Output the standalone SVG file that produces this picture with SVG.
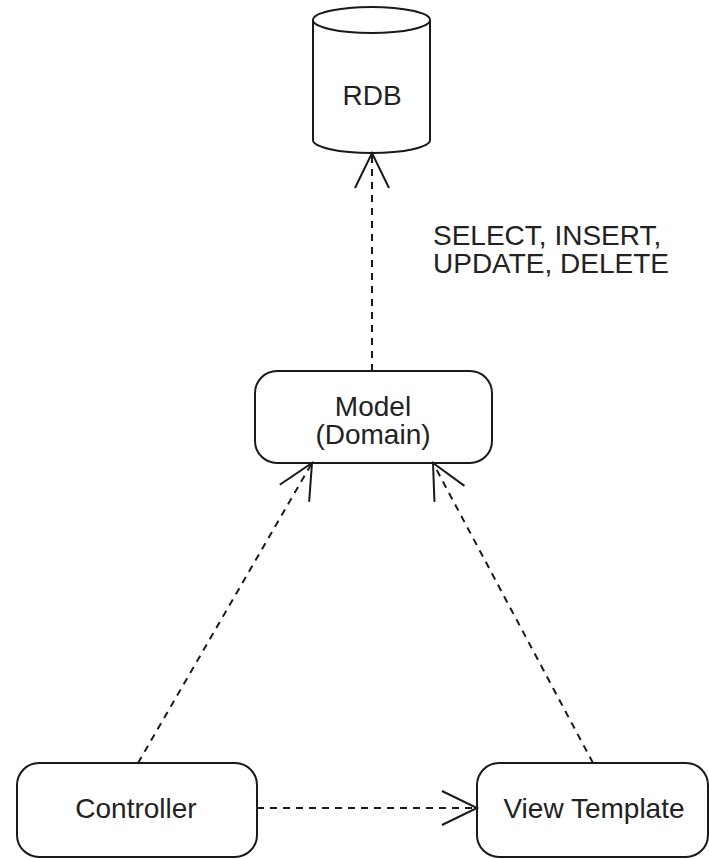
<svg xmlns="http://www.w3.org/2000/svg" width="709" height="859" viewBox="0 0 709 859">
  <style>
    .shape { fill: #ffffff; stroke: #1a1a1a; stroke-width: 2; }
    .label { font-family: "Liberation Sans", Arial, sans-serif; font-size: 28px; fill: #222222; text-anchor: middle; }
    .note { font-family: "Liberation Sans", Arial, sans-serif; font-size: 28px; fill: #222222; }
    .dep { fill: none; stroke: #1a1a1a; stroke-width: 2; stroke-dasharray: 7 6; marker-end: url(#open); }
  </style>
  <defs>
    <marker id="open" markerUnits="userSpaceOnUse" markerWidth="40" markerHeight="40" viewBox="-37 -20 40 40" refX="0" refY="0" orient="auto" overflow="visible">
      <path d="M-35,-17 L0,0 L-35,17" fill="none" stroke="#1a1a1a" stroke-width="2"/>
    </marker>
  </defs>
  <rect width="709" height="859" fill="#ffffff"/>

  <!-- database -->
  <g id="rdb">
    <path class="shape" d="M313,20 A58.5,13 0 0 1 430,20 V140 A58.5,13 0 0 1 313,140 Z"/>
    <path class="shape" fill="none" d="M313,20 A58.5,13 0 0 0 430,20"/>
    <text class="label" x="372" y="105">RDB</text>
  </g>

  <!-- domain model -->
  <g id="model">
    <rect class="shape" x="255" y="371" width="237" height="92" rx="22" ry="22"/>
    <text class="label" x="373" y="416"><tspan x="373">Model</tspan><tspan x="373" dy="28">(Domain)</tspan></text>
  </g>

  <!-- controller -->
  <g id="controller">
    <rect class="shape" x="17" y="763" width="240" height="94" rx="22" ry="22"/>
    <text class="label" x="136" y="818">Controller</text>
  </g>

  <!-- view template -->
  <g id="view-template">
    <rect class="shape" x="477" y="763" width="231" height="94" rx="22" ry="22"/>
    <text class="label" x="594" y="818">View Template</text>
  </g>

  <!-- dependencies -->
  <g id="connectors">
    <path class="dep" d="M372,371 L372,153"/>
    <path class="dep" d="M138,763 L312,463"/>
    <path class="dep" d="M593,763 L433,463"/>
    <path class="dep" d="M257,808 L477,808"/>
  </g>

  <!-- query label -->
  <g id="sql-label">
    <text class="note" x="433" y="245"><tspan x="433">SELECT, INSERT,</tspan><tspan x="433" dy="28">UPDATE, DELETE</tspan></text>
  </g>
</svg>
